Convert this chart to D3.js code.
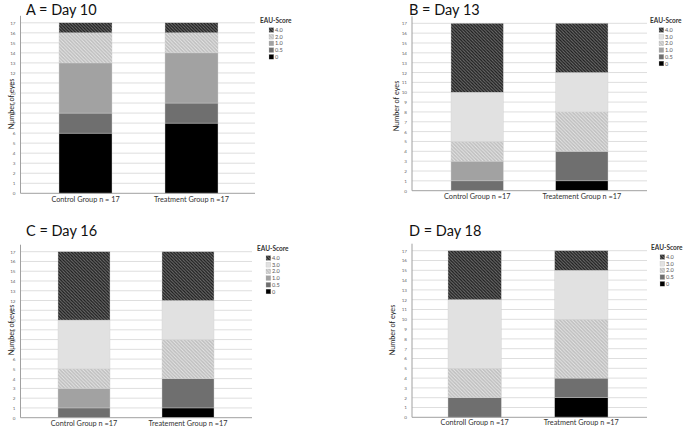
<!DOCTYPE html>
<html>
<head>
<meta charset="utf-8">
<script src="https://cdn.jsdelivr.net/npm/d3@7/dist/d3.min.js"></script>
<style>
  html, body { margin: 0; padding: 0; background: #fff; }
  svg { display: block; }
</style>
</head>
<body>
<svg id="chart" width="685" height="429"></svg>
<script>
// ---------- DATA ----------
// EAU score categories, stacked from bottom to top
const scores = ["0", "0.5", "1.0", "2.0", "3.0", "4.0"];
const yTicks = [0,1,2,3,4,5,6,7,8,9,10,11,12,13,14,15,16,17];

const titleA = "A = Day 10";
const groupsA = ["Control Group n = 17", "Treatment Group n =17"];
const legendA = ["4.0", "2.0", "1.0", "0.5", "0"];
const controlA   = [6, 2, 5, 3, 0, 1];
const treatmentA = [7, 2, 5, 2, 0, 1];

const titleB = "B = Day 13";
const groupsB = ["Control Group n =17", "Treatement Group n =17"];
const legendB = ["4.0", "3.0", "2.0", "1.0", "0.5", "0"];
const controlB   = [0, 1, 2, 2, 5, 7];
const treatmentB = [1, 3, 0, 4, 4, 5];

const titleC = "C = Day 16";
const groupsC = ["Control Group n =17", "Treatement Group n =17"];
const legendC = ["4.0", "3.0", "2.0", "1.0", "0.5", "0"];
const controlC   = [0, 1, 2, 2, 5, 7];
const treatmentC = [1, 3, 0, 4, 4, 5];

const titleD = "D = Day 18";
const groupsD = ["Controll Group n =17", "Treatment Group n =17"];
const legendD = ["4.0", "3.0", "2.0", "0.5", "0"];
const controlD   = [0, 2, 0, 3, 7, 5];
const treatmentD = [2, 2, 0, 6, 5, 2];

// ---------- STYLE ----------
const fills = {
  "0": "#000000",
  "0.5": "#6f6f6f",
  "1.0": "#a2a2a2",
  "2.0": "url(#hatchLight)",
  "3.0": "#e1e1e1",
  "4.0": "url(#hatchDark)"
};

const svg = d3.select("#chart");
const defs = svg.append("defs");

const pd = defs.append("pattern").attr("id", "hatchDark")
  .attr("patternUnits", "userSpaceOnUse").attr("width", 3.2).attr("height", 3.2);
pd.append("rect").attr("width", 3.2).attr("height", 3.2).attr("fill", "#1a1a1a");
pd.append("path").attr("d", "M-1,-1 L4.2,4.2 M-1,2.2 L1,4.2 M2.2,-1 L4.2,1")
  .attr("stroke", "#6e6e6e").attr("stroke-width", 1.1);

const pl = defs.append("pattern").attr("id", "hatchLight")
  .attr("patternUnits", "userSpaceOnUse").attr("width", 3.5).attr("height", 3.5);
pl.append("rect").attr("width", 3.5).attr("height", 3.5).attr("fill", "#bebebe");
pl.append("path").attr("d", "M-1,-1 L4.5,4.5 M-1,2.5 L1,4.5 M2.5,-1 L4.5,1")
  .attr("stroke", "#e6e6e6").attr("stroke-width", 1);

const FONT = "Lato, 'Open Sans', 'DejaVu Sans', sans-serif";

function panel(cfg) {
  const g = svg.append("g");
  const y = d3.scaleLinear().domain([0, 17]).range([cfg.yBottom, cfg.yTop]);
  const x = d3.scaleBand().domain(cfg.groups).range([cfg.barL, cfg.barR])
    .paddingInner(0.5).paddingOuter(0);

  // title
  g.append("text").attr("x", cfg.titleX).attr("y", cfg.titleY)
    .attr("font-family", FONT).attr("font-size", 14.5).attr("fill", "#111")
    .text(cfg.title);

  // gridlines
  g.append("g").selectAll("line").data(yTicks.filter(d => d > 0)).join("line")
    .attr("x1", cfg.axisX).attr("x2", cfg.gridR)
    .attr("y1", d => y(d)).attr("y2", d => y(d))
    .attr("stroke", "#dedede").attr("stroke-width", 1);

  // y axis
  const yAxis = d3.axisLeft(y).tickValues(yTicks).tickSize(0).tickPadding(5);
  const ya = g.append("g").attr("transform", `translate(${cfg.axisX},0)`).call(yAxis);
  ya.select(".domain").remove();
  ya.selectAll("text").attr("font-family", FONT).attr("font-size", 4.6).attr("fill", "#666");
  g.append("line").attr("x1", cfg.axisX).attr("x2", cfg.axisX)
    .attr("y1", cfg.yTop - 7).attr("y2", cfg.yBottom)
    .attr("stroke", "#a0a0a0").attr("stroke-width", 1);

  // stacked bars
  const rows = cfg.groups.map((gname, i) => {
    const r = { group: gname };
    scores.forEach((s, k) => r[s] = cfg.values[i][k]);
    return r;
  });
  const series = d3.stack().keys(scores)(rows);
  g.append("g").selectAll("g").data(series).join("g")
    .attr("fill", d => fills[d.key])
    .selectAll("rect").data(d => d.filter(p => p[1] - p[0] > 0)).join("rect")
    .attr("x", d => x(d.data.group))
    .attr("width", x.bandwidth())
    .attr("y", d => y(d[1]))
    .attr("height", d => y(d[0]) - y(d[1]))
    .attr("stroke", "#d0d0d0").attr("stroke-width", 0.4);

  // x axis
  const xAxis = d3.axisBottom(x).tickSize(0).tickPadding(cfg.xLabelPad);
  const xa = g.append("g").attr("transform", `translate(0,${cfg.yBottom})`).call(xAxis);
  xa.select(".domain").remove();
  xa.selectAll("text").attr("font-family", FONT).attr("font-size", 7.3).attr("fill", "#333");
  g.append("line").attr("x1", cfg.axisX).attr("x2", cfg.gridR)
    .attr("y1", cfg.yBottom).attr("y2", cfg.yBottom)
    .attr("stroke", "#a0a0a0").attr("stroke-width", 1);

  // y title
  g.append("text")
    .attr("transform", `translate(${cfg.yTitleX},${cfg.yTitleY}) rotate(-90)`)
    .attr("text-anchor", "middle")
    .attr("font-family", FONT).attr("font-size", 7.3).attr("fill", "#222")
    .text("Number of eyes");

  // legend
  const lg = g.append("g").attr("transform", `translate(${cfg.legX},${cfg.legY})`);
  lg.append("text").attr("x", 0).attr("y", 0)
    .attr("font-family", FONT).attr("font-size", 6.5).attr("font-weight", "bold").attr("fill", "#333")
    .text("EAU-Score");
  const items = lg.selectAll("g.item").data(cfg.legend).join("g")
    .attr("transform", (d, i) => `translate(9,${7 + i * 6.7})`);
  items.append("rect").attr("x", 0).attr("y", -2.4).attr("width", 4.8).attr("height", 4.8)
    .attr("fill", d => fills[d]).attr("stroke", "#bbb").attr("stroke-width", 0.3);
  items.append("text").attr("x", 6).attr("y", 2)
    .attr("font-family", FONT).attr("font-size", 5.6).attr("fill", "#555")
    .text(d => d);
}

panel({ title: titleA, groups: groupsA, legend: legendA, values: [controlA, treatmentA],
  titleX: 26, titleY: 15, axisX: 20.5, yTop: 22.8, yBottom: 193.3, gridR: 255,
  barL: 59, barR: 218, xLabelPad: 4, yTitleX: 14, yTitleY: 104, legX: 260, legY: 23 });

panel({ title: titleB, groups: groupsB, legend: legendB, values: [controlB, treatmentB],
  titleX: 409, titleY: 15, axisX: 412, yTop: 23.3, yBottom: 190.7, gridR: 647,
  barL: 451, barR: 608, xLabelPad: 3, yTitleX: 399, yTitleY: 106, legX: 650, legY: 23 });

panel({ title: titleC, groups: groupsC, legend: legendC, values: [controlC, treatmentC],
  titleX: 26, titleY: 236, axisX: 20.5, yTop: 251.7, yBottom: 417.7, gridR: 252,
  barL: 58, barR: 214, xLabelPad: 3, yTitleX: 14, yTitleY: 330, legX: 257, legY: 251 });

panel({ title: titleD, groups: groupsD, legend: legendD, values: [controlD, treatmentD],
  titleX: 409, titleY: 236, axisX: 412, yTop: 250.7, yBottom: 417.3, gridR: 647,
  barL: 448, barR: 608, xLabelPad: 3, yTitleX: 395, yTitleY: 330, legX: 651, legY: 250 });
</script>
</body>
</html>
